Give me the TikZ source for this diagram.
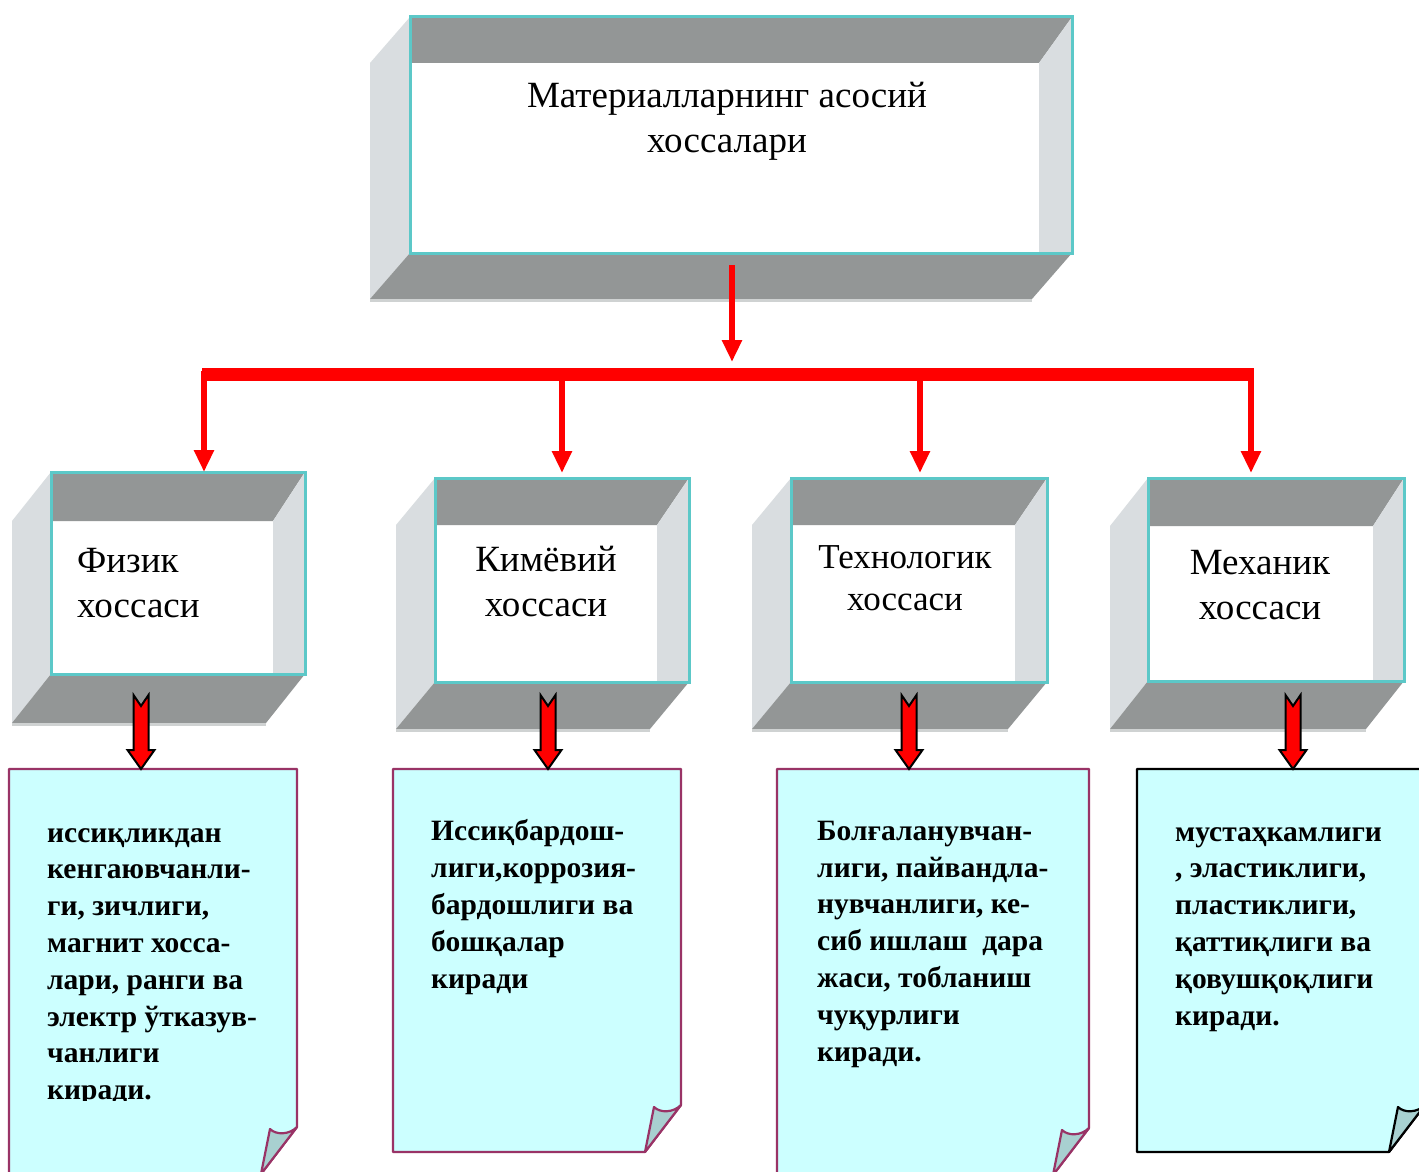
\documentclass[tikz,border=0pt]{standalone}
\usepackage{fontspec}
\setmainfont{Liberation Serif}
\usetikzlibrary{arrows.meta,calc}
\definecolor{wallDark}{HTML}{939696}
\definecolor{wallLight}{HTML}{D9DDE0}
\definecolor{frontEdge}{HTML}{5CC8C8}
\definecolor{noteFill}{HTML}{CCFFFF}
\definecolor{noteEdge}{HTML}{993366}
\definecolor{foldFill}{HTML}{A8D0D0}
\definecolor{bottomLine}{HTML}{CFD2D2}
\tikzset{
  frontbox/.style={draw=frontEdge, line width=3pt, inner sep=0pt, outer sep=0pt},
  notebody/.style={fill=noteFill, line width=2.2pt, line join=round},
  notefold/.style={fill=foldFill, line width=2.2pt, line join=round},
  hdrtext/.style={font=\fontsize{37}{45}\selectfont, inner sep=0pt},
  notetext/.style={font=\bfseries\fontsize{29.5}{36.8}\selectfont, align=left, anchor=base west, inner sep=0pt},
  thinred/.style={draw=red, line width=5.5pt, -{Triangle[width=19pt,length=22pt]}},
  redbar/.style={draw=red, line width=13pt},
  blockarrow/.style={fill=red, draw=black, line width=2pt, line join=miter},
  hidden/.style={inner sep=0pt, outer sep=0pt}
}
% name, x0, y0, x1, y1, dx, dy
\newcommand\frameBox[7]{%
  \fill[wallDark] (#2,#3) -- (#4,#3) -- ({#4-#6+7},{#3+#7}) -- (#2,{#3+#7}) -- cycle;
  \fill[wallLight] (#4,#3) -- (#4,#5) -- ({#4-#6+7},#5) -- ({#4-#6+7},{#3+#7}) -- cycle;
  \fill[wallLight] (#2,#3) -- ({#2-#6},{#3+#7}) -- ({#2-#6},{#5+#7}) -- (#2,#5) -- cycle;
  \fill[wallDark] (#2,#5) -- (#4,#5) -- ({#4-#6},{#5+#7}) -- ({#2-#6},{#5+#7}) -- cycle;
  \draw[bottomLine, line width=3pt] ({#2-#6},{#5+#7+1.5}) -- ({#4-#6},{#5+#7+1.5});
  \node[frontbox, minimum width={#4-#2}, minimum height={#5-#3}] (#1) at ({(#2+#4)/2},{(#3+#5)/2}) {};
}
% edge colour, name, x0, y0, x1, y1
\newcommand\noteShape[6]{%
  \filldraw[notebody, draw=#1] (#3,#4) -- (#5,#4) -- (#5,{#6-47}) -- ({#5-36},#6) -- (#3,#6) -- cycle;
  \filldraw[notefold, draw=#1] (#5,{#6-47}) .. controls ({#5-8},{#6-39}) and ({#5-21},{#6-39}) .. ({#5-27},{#6-45}) -- ({#5-36},#6) -- cycle;
  \node[hidden, minimum width={#5-#3}, minimum height={#6-#4}] (#2) at ({(#3+#5)/2},{(#4+#6)/2}) {};
}
% start coordinate, end coordinate
\newcommand\blockArrow[2]{%
  \filldraw[blockarrow] ($(#1)+(-7.5,0)$) -- ($(#1)+(0,11)$) -- ($(#1)+(7.5,0)$)
    -- ($(#2)+(7.5,-19)$) -- ($(#2)+(13.5,-19)$) -- (#2) -- ($(#2)+(-13.5,-19)$)
    -- ($(#2)+(-7.5,-19)$) -- cycle;
}
\begin{document}
\begin{tikzpicture}[x=1pt, y=-1pt]
\useasboundingbox (0,0) rectangle (1419,1172);
\fill[white] (0,0) rectangle (1419,1172);

% 3D frames
\frameBox{top}{410}{17}{1072}{253}{40}{46}
\frameBox{b1}{51}{472}{305}{674}{39}{49}
\frameBox{b2}{435}{478}{689}{682}{39}{47}
\frameBox{b3}{791}{478}{1047}{682}{39}{47}
\frameBox{b4}{1148}{478}{1404}{681}{38}{48}

% titles (base anchor = baseline of the last line)
\node[hdrtext, align=center, anchor=base] (ttl) at (727,152) {Материалларнинг асосий\\хоссалари};
\node[hdrtext, align=left, anchor=base west] (t1) at (77,617) {Физик\\хоссаси};
\node[hdrtext, align=center, anchor=base] (t2) at (546,616) {Кимёвий\\хоссаси};
\node[hdrtext, align=center, anchor=base, font=\fontsize{35}{42}\selectfont] (t3) at (905,610) {Технологик\\хоссаси};
\node[hdrtext, align=center, anchor=base] (t4) at (1260,619) {Механик\\хоссаси};

% red distribution
\coordinate (topOut) at (732,265);
\coordinate (barMid) at (732,362);
\coordinate (barL) at (202,374);
\coordinate (barR) at (1254,374);
\coordinate (d1) at (204,371);
\coordinate (d2) at (562,371);
\coordinate (d3) at (920,371);
\coordinate (d4) at (1251,371);
\draw[thinred] (topOut) -- (barMid);
\draw[redbar] (barL) -- (barR);
\draw[thinred] (d1) -- (d1 |- b1.north);
\draw[thinred] (d2) -- ([yshift=5pt]d2 |- b2.north);
\draw[thinred] (d3) -- ([yshift=5pt]d3 |- b3.north);
\draw[thinred] (d4) -- ([yshift=5pt]d4 |- b4.north);

% notes
\noteShape{noteEdge}{n1}{9}{769}{297}{1174}
\noteShape{noteEdge}{n2}{393}{769}{681}{1152}
\noteShape{noteEdge}{n3}{777}{769}{1089}{1175}
\noteShape{black}{n4}{1137}{769}{1425}{1152}

% block arrows
\coordinate (a1) at (141,695);
\coordinate (a2) at (548,695);
\coordinate (a3) at (909,695);
\coordinate (a4) at (1293,695);
\blockArrow{a1}{a1 |- n1.north}
\blockArrow{a2}{a2 |- n2.north}
\blockArrow{a3}{a3 |- n3.north}
\blockArrow{a4}{a4 |- n4.north}

% note texts
\begin{scope}
\clip (0,760) rectangle (300,1100);
\node[notetext] (x1) at (47,1099.6) {иссиқликдан\\кенгаювчанли-\\ги, зичлиги,\\магнит хосса-\\лари, ранги ва\\электр ўтказув-\\чанлиги\\киради.};
\end{scope}
\node[notetext] (x2) at (431,988) {Иссиқбардош-\\лиги,коррозия-\\бардошлиги ва\\бошқалар\\киради};
\node[notetext] (x3) at (817,1061) {Болғаланувчан-\\лиги, пайвандла-\\нувчанлиги, ке-\\сиб ишлаш~ дара\\жаси, тобланиш\\чуқурлиги\\киради.};
\node[notetext] (x4) at (1175,1025) {мустаҳкамлиги\\, эластиклиги,\\пластиклиги,\\қаттиқлиги ва\\қовушқоқлиги\\киради.};
\end{tikzpicture}
\end{document}
